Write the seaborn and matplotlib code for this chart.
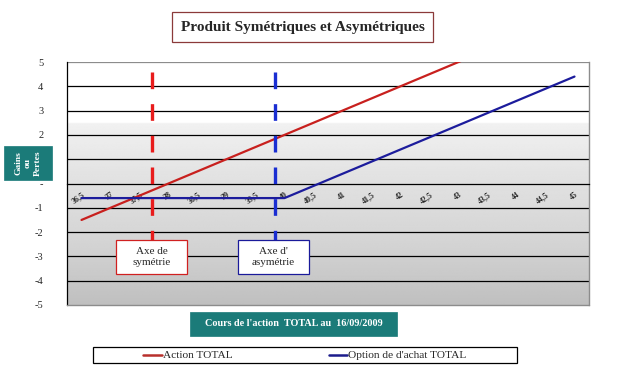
import numpy as np
import pandas as pd
import matplotlib
matplotlib.use("Agg")
import matplotlib.pyplot as plt
import seaborn as sns
from matplotlib.patches import Rectangle
from matplotlib.lines import Line2D

# ---------------- data ----------------
prix_labels = ["36,5", "37", "37,5", "38", "38,5", "39", "39,5", "40", "40,5",
               "41", "41,5", "42", "42,5", "43", "43,5", "44", "44,5", "45"]
action_total = [-1.5, -1.0, -0.5, 0.0, 0.5, 1.0, 1.5, 2.0, 2.5,
                3.0, 3.5, 4.0, 4.5, 5.0, 5.5, 6.0, 6.5, 7.0]
option_total = [-0.6, -0.6, -0.6, -0.6, -0.6, -0.6, -0.6, -0.6, -0.1,
                0.4, 0.9, 1.4, 1.9, 2.4, 2.9, 3.4, 3.9, 4.4]
series_names = ["Action TOTAL", "Option de d'achat TOTAL"]
y_ticks = [-5, -4, -3, -2, -1, 0, 1, 2, 3, 4, 5]
# the "1" label is hidden behind the axis-title box in the reference
y_tick_labels = ["-5", "-4", "-3", "-2", "-1", "-", "", "2", "3", "4", "5"]
title = "Produit Symétriques et Asymétriques"
x_title = "Cours de l'action  TOTAL au  16/09/2009"
y_title = "Gains\nou\nPertes"

n = len(prix_labels)
df = pd.DataFrame({
    "idx": list(range(n)) * 2,
    "val": action_total + option_total,
    "serie": [series_names[0]] * n + [series_names[1]] * n,
})

# ---------------- style ----------------
sns.set_style("white")
plt.rcParams["font.family"] = ["Liberation Serif", "DejaVu Serif"]

W, H = 617, 377
fig = plt.figure(figsize=(W / 100, H / 100), dpi=100)
fig.patch.set_facecolor("white")

def fx(x):
    return x / W

def fy(y):
    return 1 - y / H

ax = fig.add_axes([fx(67), fy(305), fx(589) - fx(67), fy(62) - fy(305)])
ax.set_xlim(-0.5, n - 0.5)
ax.set_ylim(-5, 5)

# background gradient
vals = np.linspace(5, -5, 400)
grey = np.interp(vals, [-5, -2.5, 0, 2.49, 2.5, 5], [0.75, 0.83, 0.88, 0.945, 1.0, 1.0])
img = np.repeat(grey[:, None], 2, axis=1)
ax.imshow(img, cmap="gray", vmin=0, vmax=1, extent=(-0.5, n - 0.5, -5, 5),
          aspect="auto", zorder=0, interpolation="bilinear")

# gridlines
for yv in y_ticks[1:-1]:
    if yv != 0:
        ax.axhline(yv, color="black", lw=0.9, zorder=1)
ax.axhline(5, color="#8c8c8c", lw=0.9, zorder=1)

palette = {series_names[0]: "#c8201e", series_names[1]: "#1c1c9c"}
sns.lineplot(data=df, x="idx", y="val", hue="serie", palette=palette, ax=ax,
             legend=False, linewidth=1.6, sort=False, zorder=3)

# axes / spines
ax.spines["top"].set_visible(False)
ax.spines["right"].set_color("#8c8c8c")
ax.spines["right"].set_linewidth(1.0)
ax.spines["left"].set_color("black")
ax.spines["left"].set_linewidth(0.9)
ax.spines["bottom"].set_position(("data", 0))
ax.spines["bottom"].set_color("black")
ax.spines["bottom"].set_linewidth(0.9)
ax.plot([-0.5, n - 0.5], [-5, -5], color="#8c8c8c", lw=1.0, clip_on=False, zorder=4)

ax.set_xticks(range(n))
ax.set_xticklabels(prix_labels, rotation=35, ha="right", rotation_mode="anchor",
                   fontsize=5.8, fontweight="bold")
ax.set_xticks(np.arange(-0.5, n, 1), minor=True)
ax.tick_params(axis="x", which="major", length=0, pad=5)
ax.tick_params(axis="x", which="minor", direction="in", length=3, color="black", width=0.8)

ax.set_yticks(y_ticks)
ax.set_yticklabels(y_tick_labels, fontsize=7.5)
ax.tick_params(axis="y", direction="in", length=3, width=0.8, color="black", pad=17)
ax.set_xlabel("")
ax.set_ylabel("")

# symmetry axes (dashed)
ax.plot([2.43, 2.43], [4.6, -2.35], color="#e81c1c", lw=2.4, ls=(0, (5, 4.5)),
        zorder=5, clip_on=False)
ax.plot([6.67, 6.67], [4.6, -2.35], color="#1a2ed2", lw=2.4, ls=(0, (5, 4.5)),
        zorder=5, clip_on=False)

def fig_box(x0, y0, x1, y1, fc, ec, lw=0.9, z=10):
    r = Rectangle((fx(x0), fy(y1)), fx(x1) - fx(x0), fy(y0) - fy(y1),
                  transform=fig.transFigure, facecolor=fc, edgecolor=ec,
                  linewidth=lw, zorder=z)
    fig.add_artist(r)

# annotation boxes
fig_box(116, 240, 187, 274, "white", "#d02020")
fig.text(fx(151.5), fy(257), "Axe de\nsymétrie", ha="center", va="center",
         fontsize=8, linespacing=1.25, zorder=11)
fig_box(238, 240, 309, 274, "white", "#1a1a9a")
fig.text(fx(273.5), fy(257), "Axe d'\nasymétrie", ha="center", va="center",
         fontsize=8, linespacing=1.25, zorder=11)

# title box
fig_box(172, 12, 433, 42, "white", "#8b3a3a")
fig.text(fx(302.5), fy(27.5), title, ha="center", va="center",
         fontsize=11, fontweight="bold", zorder=11)

# y title box
fig_box(4, 146, 52, 180, "#1b7b79", "#1b7b79", lw=0.5)
fig.text(fx(28), fy(163), y_title, ha="center", va="center", rotation=90,
         fontsize=6.8, fontweight="bold", color="white", linespacing=1.25,
         multialignment="center", zorder=11)

# x title box
fig_box(190, 312, 397, 336, "#1b7b79", "#1b7b79", lw=0.5)
fig.text(fx(293.5), fy(324), x_title, ha="center", va="center",
         fontsize=7.3, fontweight="bold", color="white", zorder=11)

# legend
fig_box(93, 347, 517, 363, "white", "black", lw=0.9, z=9)
handles = [Line2D([], [], color="#b8302c", lw=1.8),
           Line2D([], [], color="#1c1c8c", lw=1.8)]
leg = fig.legend(handles, series_names, loc="center", ncol=2,
                 bbox_to_anchor=(fx(305), fy(355.5)), frameon=False,
                 fontsize=8.2, handlelength=1.6, handletextpad=0.15,
                 columnspacing=8.4, borderpad=0)
leg.set_zorder(12)

fig.savefig("out.png", dpi=100, facecolor="white")
